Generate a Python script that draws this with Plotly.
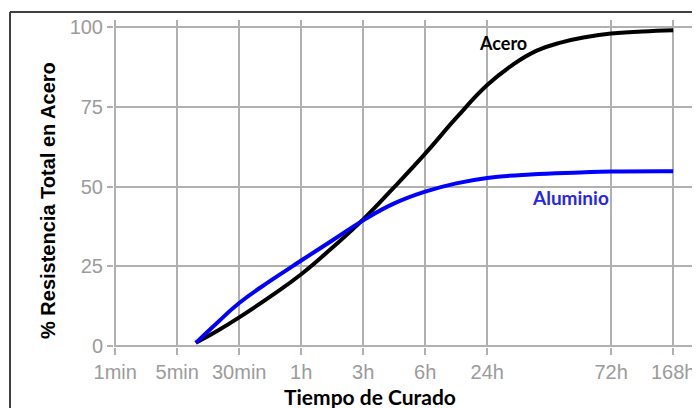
import plotly.graph_objects as go

# Tick labels and their positions on the (log-like) time scale
tick_labels = ["1min", "5min", "30min", "1h", "3h", "6h", "24h", "72h", "168h"]
tick_pos = [0, 1, 2, 3, 4, 5, 6, 8, 9]

# Acero (steel) curve
acero_x = [1.3, 1.65, 2.0, 2.5, 3.0, 3.5, 4.0, 4.5, 5.0, 5.5, 6.0, 6.4, 6.8, 7.2, 7.6, 8.0, 8.5, 9.0]
acero_y = [1.0, 4.8, 9.0, 15.5, 22.5, 30.8, 39.7, 49.8, 60.3, 71.5, 81.8, 88.0, 92.6, 95.2, 96.9, 98.0, 98.6, 99.0]

# Aluminio curve
alu_x = [1.3, 1.65, 2.0, 2.5, 3.0, 3.5, 4.0, 4.5, 5.0, 5.5, 6.0, 6.7, 7.5, 8.0, 9.0]
alu_y = [1.0, 7.4, 13.5, 20.4, 26.8, 33.1, 39.4, 44.7, 48.4, 51.0, 52.7, 53.8, 54.4, 54.7, 54.8]

y_ticks = [0, 25, 50, 75, 100]

GRID = "#b0b0b0"
TICKC = "#9b9b9b"

fig = go.Figure()
fig.add_trace(go.Scatter(x=acero_x, y=acero_y, mode="lines",
                         line=dict(color="black", width=4, shape="spline", smoothing=1.3),
                         hoverinfo="skip", showlegend=False))
fig.add_trace(go.Scatter(x=alu_x, y=alu_y, mode="lines",
                         line=dict(color="#0000ff", width=4, shape="spline", smoothing=1.3),
                         hoverinfo="skip", showlegend=False))

# The page body adds an 8px offset, so the figure is 692x400
fig.update_layout(
    width=692, height=400,
    margin=dict(l=106, r=7, t=12, b=61, autoexpand=False),
    paper_bgcolor="white", plot_bgcolor="white",
    xaxis=dict(range=[-0.02, 9.32], tickvals=tick_pos, ticktext=tick_labels,
               showgrid=True, gridcolor=GRID, gridwidth=1.5,
               ticks="outside", ticklen=7, tickwidth=1.5, tickcolor=GRID,
               tickfont=dict(family="Liberation Sans, Arial", size=20, color=TICKC),
               zeroline=False, showline=False, fixedrange=True, automargin=False),
    yaxis=dict(range=[-0.3, 102.2], tickvals=y_ticks,
               showgrid=True, gridcolor=GRID, gridwidth=1.5,
               ticks="outside", ticklen=6, tickwidth=1.5, tickcolor=GRID,
               tickfont=dict(family="Liberation Sans, Arial", size=20, color=TICKC),
               zeroline=True, zerolinecolor=GRID, zerolinewidth=1.5,
               showline=False, fixedrange=True, automargin=False),
)

# Axis titles as annotations for exact placement
fig.add_annotation(text="<b>% Resistencia Total en Acero</b>", xref="paper", yref="paper",
                   x=(48 - 114) / 579, y=(347 - 201) / 327, textangle=-90,
                   showarrow=False, xanchor="center", yanchor="middle",
                   font=dict(family="Liberation Sans, Arial", size=20, color="black"))
fig.add_annotation(text="<b>Tiempo de Curado</b>", xref="paper", yref="paper",
                   x=(370 - 114) / 579, y=(347 - 396) / 327,
                   showarrow=False, xanchor="center", yanchor="middle",
                   font=dict(family="Lato, Open Sans", size=21, color="black"))

# Series labels
fig.add_annotation(text="<b>Acero</b>", x=6.26, y=95, showarrow=False,
                   xanchor="center", yanchor="middle",
                   font=dict(family="Lato, Open Sans", size=18, color="black"))
fig.add_annotation(text="<b>Aluminio</b>", x=7.35, y=46.5, showarrow=False,
                   xanchor="center", yanchor="middle",
                   font=dict(family="Lato, Open Sans", size=19, color="#2626ee"))

# Outer frame (top and left edges visible)
bx = (10 - 114) / 579
by = (347 - 12) / 327
fig.add_shape(type="line", xref="paper", yref="paper", x0=bx, x1=bx, y0=-0.3, y1=by,
              line=dict(color="#404040", width=2))
fig.add_shape(type="line", xref="paper", yref="paper", x0=bx, x1=1.05, y0=by, y1=by,
              line=dict(color="#404040", width=2))

fig.write_html("out.html")
